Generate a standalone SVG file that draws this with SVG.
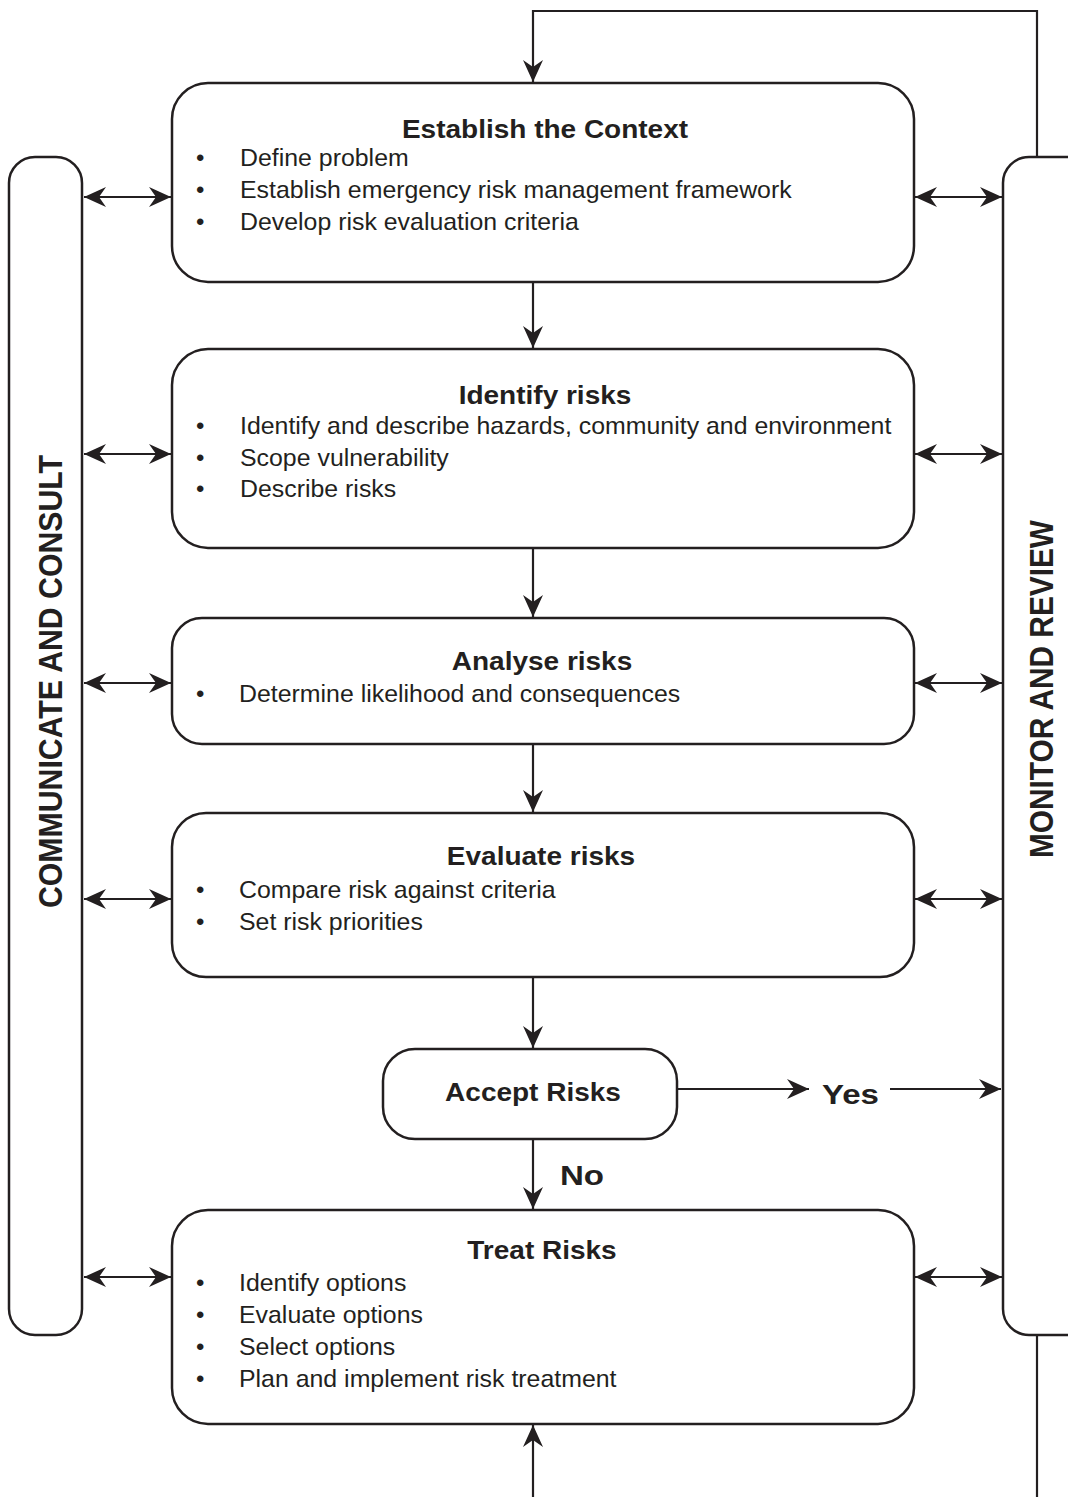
<svg xmlns="http://www.w3.org/2000/svg" width="1068" height="1497" viewBox="0 0 1068 1497">
<defs>
<marker id="ah" viewBox="0 0 22 20" refX="22" refY="10" markerWidth="22" markerHeight="20" markerUnits="userSpaceOnUse" orient="auto-start-reverse">
<path d="M0,0 L22,10 L0,20 L7,10 z" fill="#231f20"/>
</marker>
</defs>
<style>
.box{fill:#fff;stroke:#231f20;stroke-width:2.5}
.ln{fill:none;stroke:#231f20;stroke-width:2.2}
.t{font-family:"Liberation Sans",Arial,sans-serif;font-weight:bold;font-size:25px;fill:#231f20;text-anchor:middle}
.b{font-family:"Liberation Sans",Arial,sans-serif;font-size:24px;fill:#231f20}
.side{font-family:"Liberation Sans",Arial,sans-serif;font-weight:bold;font-size:34px;fill:#231f20;text-anchor:middle}
.yn{font-family:"Liberation Sans",Arial,sans-serif;font-weight:bold;font-size:28px;fill:#231f20}
</style>
<rect width="1068" height="1497" fill="#fff"/>

<g id="connectors">
<polyline class="ln" points="1037,157 1037,11 533,11 533,82" marker-end="url(#ah)"/>
<line class="ln" x1="1037" y1="1335" x2="1037" y2="1497"/>
<line class="ln" x1="533" y1="282" x2="533" y2="348" marker-end="url(#ah)"/>
<line class="ln" x1="533" y1="548" x2="533" y2="617" marker-end="url(#ah)"/>
<line class="ln" x1="533" y1="744" x2="533" y2="812" marker-end="url(#ah)"/>
<line class="ln" x1="533" y1="977" x2="533" y2="1048" marker-end="url(#ah)"/>
<line class="ln" x1="533" y1="1139" x2="533" y2="1209" marker-end="url(#ah)"/>
<line class="ln" x1="533" y1="1497" x2="533" y2="1425" marker-end="url(#ah)"/>
<line class="ln" x1="677" y1="1089" x2="809" y2="1089" marker-end="url(#ah)"/>
<line class="ln" x1="890" y1="1089" x2="1001" y2="1089" marker-end="url(#ah)"/>
<g>
<line class="ln" x1="84" y1="197" x2="171" y2="197" marker-start="url(#ah)" marker-end="url(#ah)"/>
<line class="ln" x1="84" y1="454" x2="171" y2="454" marker-start="url(#ah)" marker-end="url(#ah)"/>
<line class="ln" x1="84" y1="683" x2="171" y2="683" marker-start="url(#ah)" marker-end="url(#ah)"/>
<line class="ln" x1="84" y1="899" x2="171" y2="899" marker-start="url(#ah)" marker-end="url(#ah)"/>
<line class="ln" x1="84" y1="1277" x2="171" y2="1277" marker-start="url(#ah)" marker-end="url(#ah)"/>
<line class="ln" x1="915" y1="197" x2="1002" y2="197" marker-start="url(#ah)" marker-end="url(#ah)"/>
<line class="ln" x1="915" y1="454" x2="1002" y2="454" marker-start="url(#ah)" marker-end="url(#ah)"/>
<line class="ln" x1="915" y1="683" x2="1002" y2="683" marker-start="url(#ah)" marker-end="url(#ah)"/>
<line class="ln" x1="915" y1="899" x2="1002" y2="899" marker-start="url(#ah)" marker-end="url(#ah)"/>
<line class="ln" x1="915" y1="1277" x2="1002" y2="1277" marker-start="url(#ah)" marker-end="url(#ah)"/>
</g>
<text class="yn" x="0" y="1104" transform="translate(822 0) scale(1.18 1)">Yes</text>
<text class="yn" x="0" y="1185" transform="translate(560 0) scale(1.18 1)">No</text>
</g>

<g id="communicate">
<rect class="box" x="9" y="157" width="73" height="1178" rx="26"/>
<text class="side" transform="translate(62,681.5) rotate(-90)" textLength="453" lengthAdjust="spacingAndGlyphs">COMMUNICATE AND CONSULT</text>
</g>
<g id="monitor">
<rect class="box" x="1003" y="157" width="90" height="1178" rx="26"/>
<text class="side" transform="translate(1053,689) rotate(-90)" textLength="338" lengthAdjust="spacingAndGlyphs">MONITOR AND REVIEW</text>
</g>

<g id="context">
<rect class="box" x="172" y="83" width="742" height="199" rx="36"/>
<text class="t" x="0" y="138" transform="translate(545 0) scale(1.12 1)">Establish the Context</text>
<text class="b" x="196" y="166">•</text>
<text class="b" x="196" y="198">•</text>
<text class="b" x="196" y="230">•</text>
<g transform="translate(240 0) scale(1.037 1)">
<text class="b" x="0" y="166">Define problem</text>
<text class="b" x="0" y="198">Establish emergency risk management framework</text>
<text class="b" x="0" y="230">Develop risk evaluation criteria</text>
</g>
</g>

<g id="identify">
<rect class="box" x="172" y="349" width="742" height="199" rx="36"/>
<text class="t" x="0" y="404" transform="translate(545 0) scale(1.12 1)">Identify risks</text>
<text class="b" x="196" y="434">•</text>
<text class="b" x="196" y="466">•</text>
<text class="b" x="196" y="497">•</text>
<g transform="translate(240 0) scale(1.037 1)">
<text class="b" x="0" y="434">Identify and describe hazards, community and environment</text>
<text class="b" x="0" y="466">Scope vulnerability</text>
<text class="b" x="0" y="497">Describe risks</text>
</g>
</g>

<g id="analyse">
<rect class="box" x="172" y="618" width="742" height="126" rx="30"/>
<text class="t" x="0" y="670" transform="translate(542 0) scale(1.12 1)">Analyse risks</text>
<text class="b" x="196" y="702">•</text>
<g transform="translate(239 0) scale(1.037 1)">
<text class="b" x="0" y="702">Determine likelihood and consequences</text>
</g>
</g>

<g id="evaluate">
<rect class="box" x="172" y="813" width="742" height="164" rx="34"/>
<text class="t" x="0" y="865" transform="translate(541 0) scale(1.12 1)">Evaluate risks</text>
<text class="b" x="196" y="898">•</text>
<text class="b" x="196" y="930">•</text>
<g transform="translate(239 0) scale(1.037 1)">
<text class="b" x="0" y="898">Compare risk against criteria</text>
<text class="b" x="0" y="930">Set risk priorities</text>
</g>
</g>

<g id="accept">
<rect class="box" x="383" y="1049" width="294" height="90" rx="32"/>
<text class="t" x="0" y="1101" transform="translate(533 0) scale(1.12 1)">Accept Risks</text>
</g>

<g id="treat">
<rect class="box" x="172" y="1210" width="742" height="214" rx="36"/>
<text class="t" x="0" y="1259" transform="translate(542 0) scale(1.12 1)">Treat Risks</text>
<text class="b" x="196" y="1291">•</text>
<text class="b" x="196" y="1323">•</text>
<text class="b" x="196" y="1355">•</text>
<text class="b" x="196" y="1387">•</text>
<g transform="translate(239 0) scale(1.037 1)">
<text class="b" x="0" y="1291">Identify options</text>
<text class="b" x="0" y="1323">Evaluate options</text>
<text class="b" x="0" y="1355">Select options</text>
<text class="b" x="0" y="1387">Plan and implement risk treatment</text>
</g>
</g>
</svg>
